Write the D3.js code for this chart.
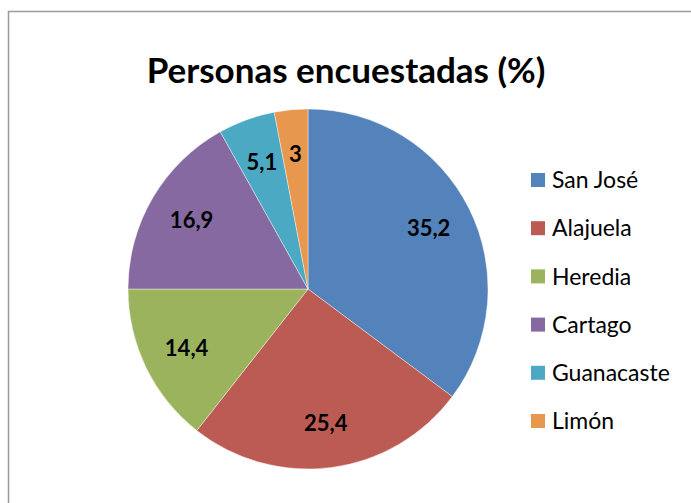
<!DOCTYPE html>
<html>
<head>
<meta charset="utf-8">
<script src="https://cdn.jsdelivr.net/npm/d3@7"></script>
<style>
  body { margin: 0; background: #fff; }
  svg { display: block; font-family: Lato, "Open Sans", sans-serif; }
</style>
</head>
<body>
<svg id="chart" width="691" height="503"></svg>
<script>
'use strict';

const regions = ['San José', 'Alajuela', 'Heredia', 'Cartago', 'Guanacaste', 'Limón'];
const percents = [35.2, 25.4, 14.4, 16.9, 5.1, 3];
const labels = ['35,2', '25,4', '14,4', '16,9', '5,1', '3'];
const colors = ['#5383BA', '#BC5B53', '#9CB35E', '#8569A0', '#4CA9C3', '#E8974E'];
const title = 'Personas encuestadas (%)';

const svg = d3.select('#chart');

// chart frame (runs off the right/bottom edge like the screenshot)
svg.append('rect')
  .attr('x', 8.5).attr('y', 11.5)
  .attr('width', 720).attr('height', 520)
  .attr('fill', '#fff')
  .attr('stroke', '#9a9a9a')
  .attr('stroke-width', 1.5);

svg.append('text')
  .attr('x', 346).attr('y', 83)
  .attr('text-anchor', 'middle')
  .attr('font-size', 35)
  .attr('font-weight', 700)
  .attr('fill', '#000')
  .text(title);

const cx = 308, cy = 289, r = 180;

const pie = d3.pie().sort(null).value((d) => d);
const arcs = pie(percents);
const arc = d3.arc().innerRadius(0).outerRadius(r);
const labelArc = d3.arc().innerRadius(r * 0.75).outerRadius(r * 0.75);
const color = d3.scaleOrdinal().domain(regions).range(colors);

const g = svg.append('g').attr('transform', `translate(${cx},${cy})`);

g.selectAll('path')
  .data(arcs)
  .enter()
  .append('path')
  .attr('d', arc)
  .attr('fill', (d, i) => color(regions[i]))
  .attr('stroke', '#fff')
  .attr('stroke-width', 0.4);

g.selectAll('text')
  .data(arcs)
  .enter()
  .append('text')
  .attr('transform', (d) => `translate(${labelArc.centroid(d)})`)
  .attr('text-anchor', 'middle')
  .attr('dy', '0.35em')
  .attr('font-size', 22)
  .attr('font-weight', 700)
  .attr('fill', '#000')
  .text((d, i) => labels[i]);

// legend
const ly = d3.scalePoint().domain(regions).range([180, 421]);

const legend = svg.append('g')
  .selectAll('g')
  .data(regions)
  .enter()
  .append('g')
  .attr('transform', (d) => `translate(531,${ly(d)})`);

legend.append('rect')
  .attr('x', 0).attr('y', -7)
  .attr('width', 14).attr('height', 14)
  .attr('fill', (d) => color(d));

legend.append('text')
  .attr('x', 21).attr('dy', '0.36em')
  .attr('font-size', 23)
  .attr('fill', '#000')
  .text((d) => d);
</script>
</body>
</html>
